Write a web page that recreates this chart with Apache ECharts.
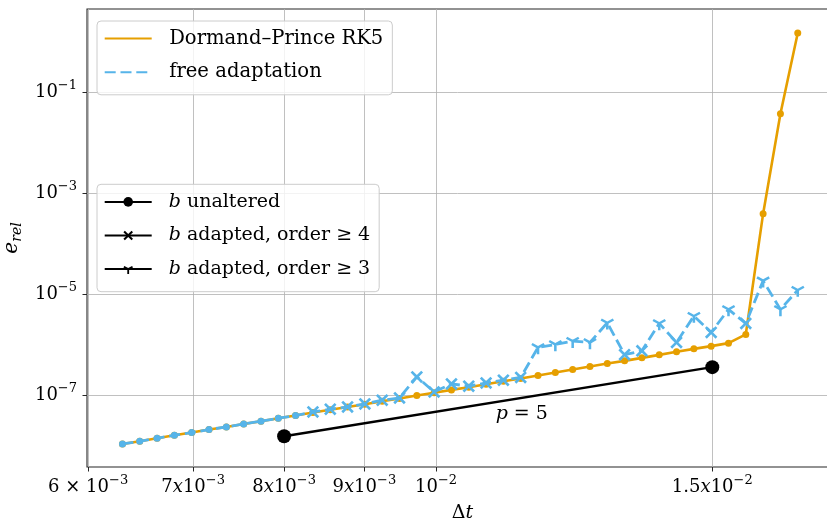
<!DOCTYPE html>
<html><head><meta charset="utf-8">
<script src="https://cdn.jsdelivr.net/npm/echarts@6/dist/echarts.min.js"></script>
<style>html,body{margin:0;padding:0;background:#fff}#c{width:827px;height:523px}</style>
</head><body><div id="c"></div>
<script>
// ---------- data ----------
const dt = [0.006310, 0.006472, 0.006639, 0.006810, 0.006985, 0.007165, 0.007350, 0.007539, 0.007733, 0.007932,
  0.008136, 0.008346, 0.008561, 0.008781, 0.009007, 0.009239, 0.009477, 0.009721, 0.009971, 0.010228,
  0.010491, 0.010761, 0.011038, 0.011322, 0.011614, 0.011913, 0.012220, 0.012534, 0.012857, 0.013188,
  0.013527, 0.013876, 0.014233, 0.014600, 0.014975, 0.015361, 0.015756, 0.016162, 0.016578, 0.017005];
const rk5Err = [1.10e-8, 1.245e-8, 1.427e-8, 1.637e-8, 1.85e-8, 2.123e-8, 2.389e-8, 2.739e-8, 3.097e-8, 3.552e-8,
  4.018e-8, 4.606e-8, 5.234e-8, 5.945e-8, 6.724e-8, 7.71e-8, 8.72e-8, 1.0e-7, 1.136e-7, 1.291e-7,
  1.46e-7, 1.674e-7, 1.92e-7, 2.171e-7, 2.489e-7, 2.853e-7, 3.273e-7, 3.752e-7, 4.302e-7, 4.843e-7,
  5.555e-7, 6.368e-7, 7.302e-7, 8.37e-7, 9.47e-7, 1.085e-6, 1.614e-6, 3.945e-4, 3.72e-2, 1.47];
const freeErr = [1.10e-8, 1.245e-8, 1.427e-8, 1.637e-8, 1.85e-8, 2.123e-8, 2.389e-8, 2.739e-8, 3.097e-8, 3.552e-8,
  4.018e-8, 4.733e-8, 5.355e-8, 5.945e-8, 6.82e-8, 8.07e-8, 8.96e-8, 2.335e-7, 1.178e-7, 1.697e-7,
  1.528e-7, 1.777e-7, 2.009e-7, 2.272e-7, 8.92e-7, 1.023e-6, 1.189e-6, 1.121e-6, 2.739e-6, 6.425e-7,
  7.64e-7, 2.665e-6, 1.121e-6, 3.72e-6, 1.768e-6, 5.047e-6, 2.665e-6, 1.859e-5, 5.047e-6, 1.217e-5];
// marker per point: o = b unaltered, x = b adapted order>=4, t = b adapted order>=3
const freeMarkers = ['o','o','o','o','o','o','o','o','o','o',
  'o','x','x','x','x','x','x','x','x','x',
  'x','x','x','x','t','t','t','t','t','x',
  'x','t','x','t','x','t','x','t','t','t'];
const refDt = [0.008, 0.015];
const refErr = [1.563e-8, 3.634e-7];
const slopeLabel = {dt: 0.01134, err: 4.26e-8, text: '{i|p} = 5'};

const xTickValues = [0.006, 0.007, 0.008, 0.009, 0.01, 0.015];
const xTickLabels = ['{b|6 × 10}{s|−3}', '{b|7}{i|x}{b|10}{s|−3}', '{b|8}{i|x}{b|10}{s|−3}',
  '{b|9}{i|x}{b|10}{s|−3}', '{b|10}{s|−2}', '{b|1.5}{i|x}{b|10}{s|−2}'];
const yTickValues = [1e-7, 1e-5, 1e-3, 1e-1];
const yTickLabels = ['{b|10}{s|−7}', '{b|10}{s|−5}', '{b|10}{s|−3}', '{b|10}{s|−1}'];

const mainNames = ['Dormand–Prince RK5', 'free adaptation'];
const markerNames = ['b unaltered', 'b adapted, order ≥ 4', 'b adapted, order ≥ 3'];
const legendText = {
  'Dormand–Prince RK5': '  Dormand–Prince RK5',
  'free adaptation': '  free adaptation',
  'b unaltered': '  {i|b} unaltered',
  'b adapted, order ≥ 4': '  {i|b} adapted, order ≥ 4',
  'b adapted, order ≥ 3': '  {i|b} adapted, order ≥ 3'
};

// ---------- styles ----------
const FONT = 'DejaVu Serif';
const ORANGE = '#E69F00', BLUE = '#56B4E9';
const X_PATH = 'path://M1.5,0L5,3.5L8.5,0L10,1.5L6.5,5L10,8.5L8.5,10L5,6.5L1.5,10L0,8.5L3.5,5L0,1.5Z';
const TRI_PATH = 'path://M10,0M8.2,20L8.2,11.04L0.44,6.56L2.24,3.44L10,7.92L17.76,3.44L19.56,6.56L11.8,11.04L11.8,20Z';
const markerSym = {o: 'circle', x: X_PATH, t: TRI_PATH};
const markerSize = {o: 7, x: 12.5, t: 13.5};

function lookup(vals, labels, v) {
  for (let i = 0; i < vals.length; i++) {
    if (Math.abs(Math.log10(v) - Math.log10(vals[i])) < 1e-6) return labels[i];
  }
  return '';
}
const tickRich = {
  b: {fontFamily: FONT, fontSize: 18, lineHeight: 26, color: '#000'},
  i: {fontFamily: FONT, fontStyle: 'italic', fontSize: 18, lineHeight: 26, color: '#000'},
  s: {fontFamily: FONT, fontSize: 13, lineHeight: 13, verticalAlign: 'top', color: '#000'}
};
function legendTextStyle(size) {
  return {
    fontFamily: FONT, fontSize: size, lineHeight: 22, color: '#000',
    rich: {i: {fontFamily: FONT, fontStyle: 'italic', fontSize: size, lineHeight: 22, color: '#000'}}
  };
}
const legendCommon = {
  orient: 'vertical', left: 97, itemWidth: 47, itemHeight: 12, itemGap: 11.6,
  padding: [6.6, 9, 11.6, 6.7], backgroundColor: 'rgba(255,255,255,0.8)',
  borderColor: '#cccccc', borderWidth: 1, borderRadius: 4,
  formatter: n => legendText[n], selectedMode: false
};

const chart = echarts.init(document.getElementById('c'), null, {renderer: 'canvas'});
const series = [];
markerNames.forEach((n, i) => {
  series.push({
    name: n, type: 'line', data: [],
    symbol: markerSym[['o', 'x', 't'][i]], symbolSize: 10,
    lineStyle: {color: '#000', width: 2.7}, itemStyle: {color: '#000'}
  });
});
series.push({
  name: mainNames[0], type: 'line',
  data: dt.map((x, i) => [x, rk5Err[i]]),
  symbol: 'circle', symbolSize: 7, showSymbol: true,
  lineStyle: {color: ORANGE, width: 2.6}, itemStyle: {color: ORANGE}, z: 3
});
series.push({
  name: mainNames[1], type: 'line',
  data: dt.map((x, i) => ({value: [x, freeErr[i]], symbol: markerSym[freeMarkers[i]], symbolSize: markerSize[freeMarkers[i]]})),
  symbol: 'circle', symbolSize: 7,
  lineStyle: {color: BLUE, width: 2.8, type: [11, 4.8]}, itemStyle: {color: BLUE}, z: 4
});
series.push({
  name: 'ref', type: 'line',
  data: refDt.map((x, i) => [x, refErr[i]]),
  symbol: 'circle', symbolSize: 14,
  lineStyle: {color: '#000', width: 2.4}, itemStyle: {color: '#000'}, z: 5,
  markPoint: {
    symbol: 'circle', symbolSize: 1, itemStyle: {color: 'rgba(0,0,0,0)'},
    label: {show: true, position: 'inside', formatter: slopeLabel.text,
      fontFamily: FONT, fontSize: 19, color: '#000',
      rich: {i: {fontFamily: FONT, fontStyle: 'italic', fontSize: 19, color: '#000'}}},
    data: [{coord: [slopeLabel.dt, slopeLabel.err]}]
  }
});

const option = {
  animation: false,
  backgroundColor: '#fff',
  grid: {left: 87, right: -11, top: 9, bottom: 56, show: true, borderColor: '#262626', borderWidth: 1.1,
    outerBoundsMode: 'none', containLabel: false},
  legend: [
    Object.assign({}, legendCommon, {data: mainNames, top: 21, itemStyle: {opacity: 0}, textStyle: legendTextStyle(19.6)}),
    Object.assign({}, legendCommon, {data: markerNames, top: 184.3, textStyle: legendTextStyle(19)})
  ],
  xAxis: {
    type: 'log', logBase: 10, min: 0.0059899, max: 0.018040,
    name: '{u|Δ}{i|t}', nameLocation: 'middle', nameGap: 35,
    nameTextStyle: {rich: {
      u: {fontFamily: FONT, fontSize: 19, lineHeight: 23, color: '#000'},
      i: {fontFamily: FONT, fontStyle: 'italic', fontSize: 19, lineHeight: 23, color: '#000'}}},
    axisLine: {show: false},
    axisTick: {show: true, customValues: xTickValues, length: 4.5, lineStyle: {color: '#262626', width: 1}},
    axisLabel: {customValues: xTickValues, margin: 7, formatter: v => lookup(xTickValues, xTickLabels, v), rich: tickRich},
    splitLine: {show: true, lineStyle: {color: '#b0b0b0', width: 0.8}},
    minorTick: {show: false}, minorSplitLine: {show: false}
  },
  yAxis: {
    type: 'log', logBase: 10, min: 3.855e-9, max: 4.402,
    name: '{e|e}{r|rel}', nameLocation: 'middle', nameRotate: 90, nameGap: 61,
    nameTextStyle: {rich: {
      e: {fontFamily: FONT, fontStyle: 'italic', fontSize: 20, lineHeight: 24, color: '#000'},
      r: {fontFamily: FONT, fontStyle: 'italic', fontSize: 14, lineHeight: 14, verticalAlign: 'bottom', color: '#000'}}},
    axisLine: {show: false},
    axisTick: {show: true, customValues: yTickValues, length: 4.5, lineStyle: {color: '#262626', width: 1}},
    axisLabel: {customValues: yTickValues, margin: 10, formatter: v => lookup(yTickValues, yTickLabels, v), rich: tickRich},
    splitLine: {show: true, lineStyle: {color: '#b0b0b0', width: 0.8}},
    minorTick: {show: false}, minorSplitLine: {show: false}
  },
  series: series
};
chart.setOption(option);
</script></body></html>
